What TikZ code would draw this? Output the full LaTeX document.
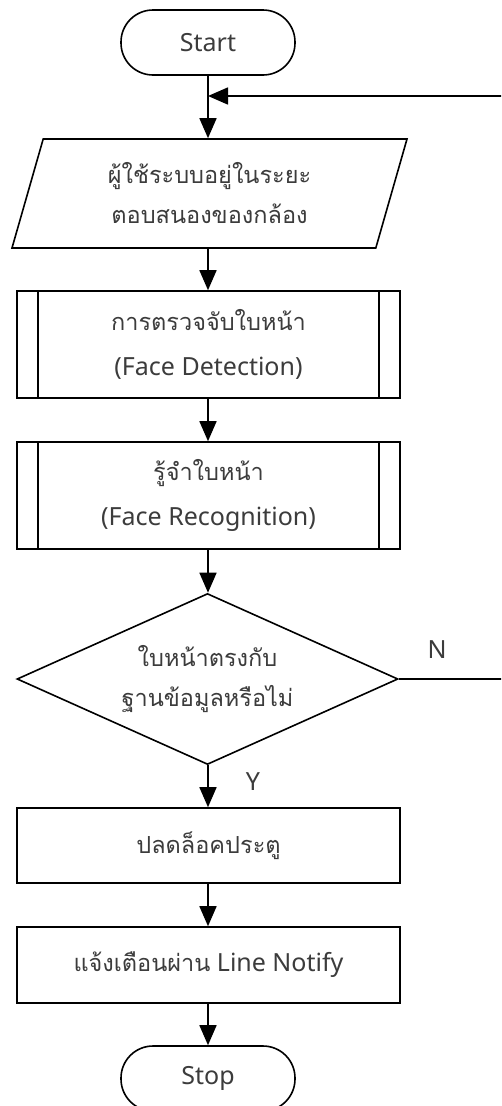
\documentclass[tikz,border=0pt]{standalone}
\usepackage{fontspec}
\setmainfont{Noto Sans}
\newfontfamily\thaifont[Script=Thai,Scale=0.94]{Loma}
\usetikzlibrary{arrows.meta,shapes.geometric}
\definecolor{txt}{HTML}{3C3C3C}
\tikzset{
  every node/.style={font=\fontsize{25}{40}\selectfont, text=txt, align=center},
  line/.style={line width=1.6pt, draw=black},
  flow/.style={line, -{Triangle[length=20pt,width=17pt]}},
  term/.style={line, rounded corners=32pt, minimum width=174pt, minimum height=65pt, inner sep=0pt},
  procbox/.style={line, rectangle, minimum width=383pt, inner sep=0pt},
  subproc/.style={procbox, minimum height=107pt, font=\fontsize{25}{45}\selectfont},
  iobox/.style={line, trapezium, trapezium left angle=63, trapezium right angle=117,
     trapezium stretches body, minimum width=395pt, minimum height=109pt, inner sep=0pt},
  decide/.style={line, diamond, minimum width=381pt, minimum height=171pt, inner sep=0pt, aspect=2.23},
}
\begin{document}
\begin{tikzpicture}[x=1pt,y=-1pt]
\clip (0,0) rectangle (501,1106);
\fill[white] (0,0) rectangle (501,1106);
\node[term] (start) at (208,42.5) {Start};
\coordinate (join) at (208,96);
\node[iobox] (in) at (209.5,193.5) {{\thaifont ผู้ใช้ระบบอยู่ในระยะ}\\{\thaifont ตอบสนองของกล้อง}};
\node[subproc] (det) at (208.5,344.5) {{\thaifont การตรวจจับใบหน้า}\\(Face Detection)};
\draw[line] ([xshift=22pt]det.north west) -- ([xshift=22pt]det.south west)
            ([xshift=-22pt]det.north east) -- ([xshift=-22pt]det.south east);
\node[subproc] (rec) at (208.5,495.5) {{\thaifont รู้จำใบหน้า}\\(Face Recognition)};
\draw[line] ([xshift=22pt]rec.north west) -- ([xshift=22pt]rec.south west)
            ([xshift=-22pt]rec.north east) -- ([xshift=-22pt]rec.south east);
\node[decide] (dec) at (207.5,679) {{\thaifont ใบหน้าตรงกับ}\\{\thaifont ฐานข้อมูลหรือไม่}};
\node[procbox, minimum height=75pt] (unlock) at (208.5,845.5) {\thaifont ปลดล็อคประตู};
\node[procbox, minimum height=76pt] (notify) at (208.5,965) {{\thaifont แจ้งเตือนผ่าน} Line Notify};
\node[term] (stop) at (208,1078.5) {Stop};
\node (nlab) at (437,650) {N};
\node (ylab) at (253,782) {Y};
\coordinate (rb) at (504,679);
\coordinate (rt) at (504,96);
\draw[flow] (start.south) -- (join) -- (join |- in.north);
\draw[flow] (in.south -| join) -- (join |- det.north);
\draw[flow] (det.south -| join) -- (join |- rec.north);
\draw[flow] (rec.south -| join) -- (join |- dec.north);
\draw[flow] (dec.south -| join) -- (join |- unlock.north);
\draw[flow] (unlock.south -| join) -- (join |- notify.north);
\draw[flow] (notify.south -| join) -- (join |- stop.north);
\draw[flow] (dec.east) -- (rb) -- (rt) -- (join);
\end{tikzpicture}
\end{document}
